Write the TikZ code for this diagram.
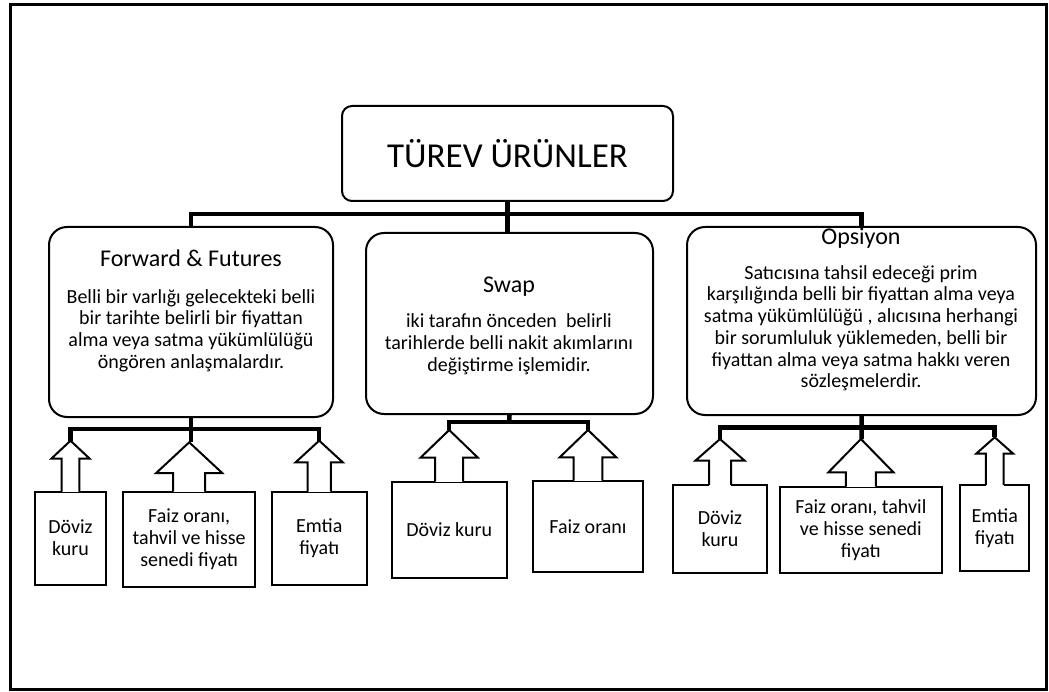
\documentclass[tikz,border=0pt]{standalone}
\usepackage{fontspec}
\setmainfont{Carlito}
\usetikzlibrary{calc}

\tikzset{
  box/.style={draw,line width=2pt,rounded corners=18pt,inner sep=0pt},
  leaf/.style={draw,line width=2pt,inner sep=0pt,align=center,font=\fontsize{20}{21.7}\selectfont},
  head/.style={anchor=base,inner sep=0pt,font=\fontsize{24}{28}\selectfont},
  body/.style={anchor=base,inner sep=0pt,align=center,font=\fontsize{20}{21.7}\selectfont},
  bus/.style={line width=4.5pt},
  arrowline/.style={line width=2pt,line join=miter}
}

% #1 leaf node, #2 half shaft, #3 half head, #4 head base height, #5 tip height
\newcommand{\leafarrow}[5]{%
  \fill[white] ($(#1.north)+(-#2,1.5)$) rectangle ($(#1.north)+(#2,-1.5)$);
  \draw[arrowline] ($(#1.north)+(-#2,1)$) -- ++(0,-#4-1) -- ++(#2-#3,0)
    -- ($(#1.north)+(0,-#5)$) coordinate (#1tip)
    -- ($(#1.north)+(#3,-#4)$) -- ++(#2-#3,0) -- ($(#1.north)+(#2,1)$);
}

\begin{document}
\begin{tikzpicture}[x=1pt,y=-1pt]
  \useasboundingbox (0,0) rectangle (1049,692);
  \draw[line width=3pt] (10,4.5) rectangle (1046.5,689);

  \node[box,rounded corners=10pt,minimum width=331pt,minimum height=95pt,
        font=\fontsize{35}{40}\selectfont] (top) at (507.5,153.5) {TÜREV ÜRÜNLER};

  \node[box,minimum width=284pt,minimum height=190pt] (ff) at (191,322) {};
  \node[box,minimum width=287pt,minimum height=181pt] (sw) at (509.5,323.5) {};
  \node[box,minimum width=349pt,minimum height=188pt] (op) at (861.5,321) {};

  \node[head] (fftitle) at (191,266.7) {Forward \& Futures};
  \node[body] (fftext) at (191,368.3) {Belli bir varlığı gelecekteki belli\\bir tarihte belirli bir fiyattan\\alma veya satma yükümlülüğü\\öngören anlaşmalardır.};
  \node[head] (swtitle) at (509,292.7) {Swap};
  \node[body] (swtext) at (509,371) {iki tarafın önceden\ \ belirli\\tarihlerde belli nakit akımlarını\\değiştirme işlemidir.};
  \node[head] (optitle) at (861,245) {Opsiyon};
  \node[body] (optext) at (861,387.7) {Satıcısına tahsil edeceği prim\\karşılığında belli bir fiyattan alma veya\\satma yükümlülüğü , alıcısına herhangi\\bir sorumluluk yüklemeden, belli bir\\fiyattan alma veya satma hakkı veren\\sözleşmelerdir.};

  \node[leaf,minimum width=71pt,minimum height=93pt] (ffd) at (70.5,538) {Döviz\\kuru};
  \node[leaf,minimum width=131.7pt,minimum height=95pt] (fff) at (189.2,539.2) {Faiz oranı,\\tahvil ve hisse\\senedi fiyatı};
  \node[leaf,minimum width=95pt,minimum height=93.3pt] (ffe) at (319.2,538.3) {Emtia\\fiyatı};
  \node[leaf,minimum width=115pt,minimum height=96.6pt] (swd) at (449.2,530) {Döviz kuru};
  \node[leaf,minimum width=110.6pt,minimum height=91.8pt] (swf) at (588,526.4) {Faiz oranı};
  \node[leaf,minimum width=94.6pt,minimum height=87.7pt] (opd) at (720,528.9) {Döviz\\kuru};
  \node[leaf,minimum width=161.7pt,minimum height=86.6pt] (opf) at (860.9,530) {Faiz oranı, tahvil\\ve hisse senedi\\fiyatı};
  \node[leaf,minimum width=69.5pt,minimum height=86pt] (ope) at (994.7,528) {Emtia\\fiyatı};

  \leafarrow{ffd}{8.8}{19}{32}{49.8}
  \leafarrow{fff}{16}{33}{17.7}{48.4}
  \leafarrow{ffe}{11.7}{23.5}{28.4}{50}
  \leafarrow{swd}{14}{28.5}{23.2}{50.7}
  \leafarrow{swf}{14.3}{28.3}{22.2}{49.5}
  \leafarrow{opd}{11}{24.5}{23.5}{45}
  \leafarrow{opf}{15}{32.5}{13.4}{46.7}
  \leafarrow{ope}{8.8}{18.3}{30.5}{46.7}

  \coordinate (mainbus) at (507.5,214);
  \coordinate (ffbus) at (191,429);
  \coordinate (swbus) at (509.3,422);
  \coordinate (opbus) at (861.7,427.5);

  \draw[bus] (top.south) -- (top.south |- sw.north);
  \draw[bus] (ff.north) |- (mainbus) -| (op.north);

  \draw[bus] (ff.south) -- (ffbus) -- (ffbus |- ffftip);
  \draw[bus] (ffdtip) |- (ffbus) -| (ffetip);
  \draw[bus] (sw.south) -- (swbus);
  \draw[bus] (swdtip) |- (swbus) -| (swftip);
  \draw[bus] (op.south) -- (opbus) -- (opbus |- opftip);
  \draw[bus] (opdtip) |- (opbus) -| (opetip);
\end{tikzpicture}
\end{document}
